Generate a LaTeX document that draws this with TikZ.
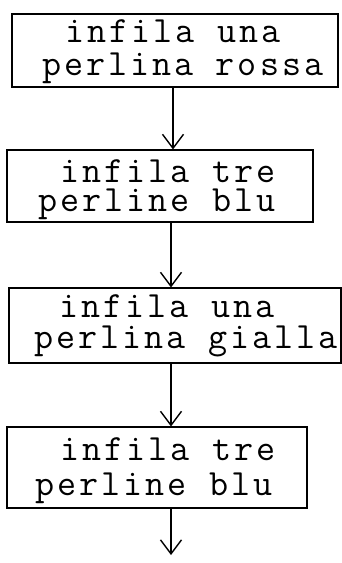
\documentclass[tikz,border=0pt]{standalone}
\usepackage{fontspec}
\newfontfamily\typeface[LetterSpace=8]{Latin Modern Mono}
\usetikzlibrary{arrows.meta}
\begin{document}
\begin{tikzpicture}[x=1pt,y=-1pt,
  box/.style={draw=black,line width=1.1pt,rectangle,inner sep=0pt},
  txt/.style={font=\typeface\fontsize{37}{#1}\selectfont,align=center,anchor=base,inner sep=0pt},
  arr/.style={draw=black,line width=1.2pt,-{Straight Barb[length=14pt,width=21pt,line width=1.4pt]}}]
\useasboundingbox[fill=white] (0,0) rectangle (341,563);
% boxes
\node[box,minimum width=326pt,minimum height=73pt] (b1) at (175,50.5) {};
\node[box,minimum width=306pt,minimum height=72pt] (b2) at (160,186) {};
\node[box,minimum width=332pt,minimum height=75pt] (b3) at (175,325.5) {};
\node[box,minimum width=300pt,minimum height=81pt] (b4) at (157,467.5) {};
% texts (anchored at the baseline of the second line)
\node[txt=33] (t1) at (178,75) {infila una\hspace*{10pt}\\\hspace*{10pt}perlina rossa};
\node[txt=29] (t2) at (162.5,211) {\hspace*{11pt}infila tre\\perline blu\hspace*{11pt}};
\node[txt=31] (t3) at (176.5,348) {infila una\hspace*{19pt}\\\hspace*{19pt}perlina gialla};
\node[txt=35] (t4) at (161,495) {\hspace*{14pt}infila tre\\perline blu\hspace*{14pt}};
% connectors
\coordinate (end) at (171,555);
\draw[arr] ([xshift=-2pt]b1.south) -- ([xshift=13pt]b2.north);
\draw[arr] ([xshift=11pt]b2.south) -- ([xshift=-4pt]b3.north);
\draw[arr] ([xshift=-4pt]b3.south) -- ([xshift=14pt]b4.north);
\draw[arr] ([xshift=14pt]b4.south) -- (end);
\end{tikzpicture}
\end{document}
